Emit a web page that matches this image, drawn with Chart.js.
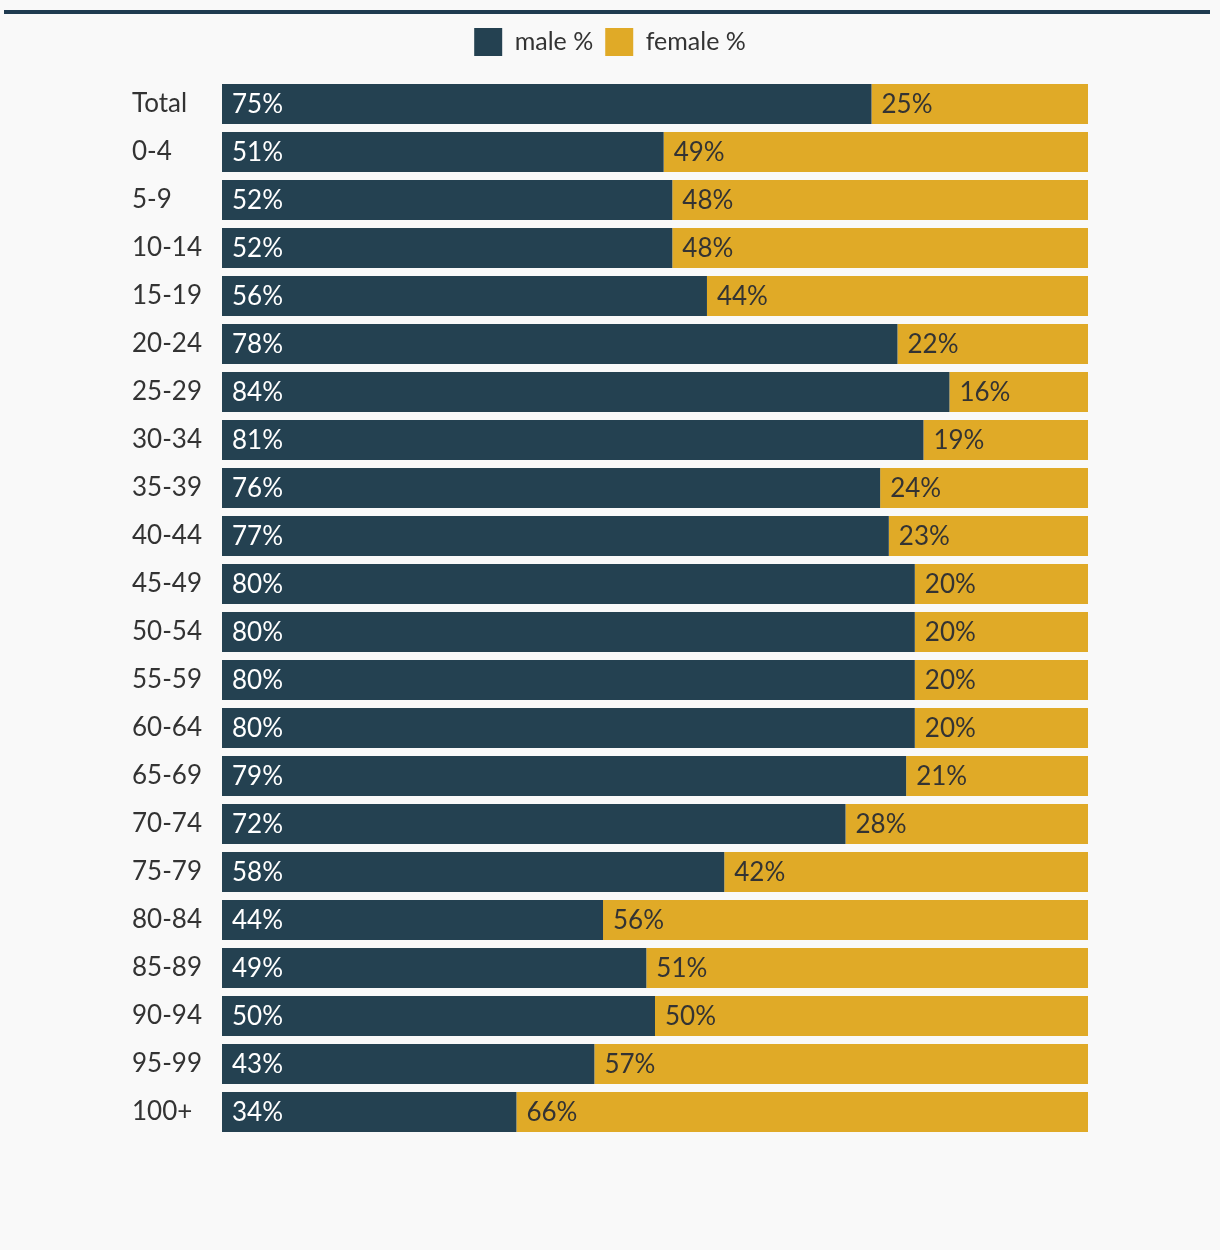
<!DOCTYPE html>
<html>
<head>
<meta charset="utf-8">
<script src="https://cdn.jsdelivr.net/npm/chart.js@4/dist/chart.umd.min.js"></script>
<style>
  html, body { margin: 0; padding: 0; background: #f9f9f9; }
  #wrap { position: relative; width: 1220px; height: 1250px; }
  #topline { position: absolute; left: 4px; top: 10px; width: 1206px; height: 4px; background: #1f3b50; }
  canvas { display: block; }
</style>
</head>
<body>
<div id="wrap">
  <div id="topline"></div>
  <canvas id="c" width="1220" height="1250"></canvas>
</div>
<script>
const categories = ["Total","0-4","5-9","10-14","15-19","20-24","25-29","30-34","35-39","40-44","45-49","50-54","55-59","60-64","65-69","70-74","75-79","80-84","85-89","90-94","95-99","100+"];
const maleValues = [75,51,52,52,56,78,84,81,76,77,80,80,80,80,79,72,58,44,49,50,43,34];
const femaleValues = [25,49,48,48,44,22,16,19,24,23,20,20,20,20,21,28,42,56,51,50,57,66];
const seriesNames = ["male %","female %"];

const FONT = "Lato, 'Open Sans', sans-serif";
const NAVY = "#244151";
const GOLD = "#e0aa27";

const legendMargin = {
  id: 'legendMargin',
  beforeInit(chart) {
    const origFit = chart.legend.fit;
    chart.legend.fit = function () {
      origFit.bind(chart.legend)();
      this.height += 14;
    };
  }
};

const barLabels = {
  id: 'barLabels',
  afterDatasetsDraw(chart) {
    const ctx = chart.ctx;
    ctx.save();
    ctx.font = "26px " + FONT;
    ctx.textAlign = 'left';
    ctx.textBaseline = 'middle';
    chart.data.datasets.forEach((ds, di) => {
      const meta = chart.getDatasetMeta(di);
      meta.data.forEach((bar, i) => {
        const p = bar.getProps(['x','y','base'], true);
        ctx.fillStyle = di === 0 ? '#ffffff' : '#333333';
        ctx.fillText(ds.data[i] + '%', Math.min(p.base, p.x) + 10, p.y + 1);
      });
    });
    ctx.restore();
  }
};

new Chart(document.getElementById('c'), {
  type: 'bar',
  data: {
    labels: categories,
    datasets: [
      { label: seriesNames[0], data: maleValues, backgroundColor: NAVY, borderWidth: 0 },
      { label: seriesNames[1], data: femaleValues, backgroundColor: GOLD, borderWidth: 0 }
    ]
  },
  options: {
    indexAxis: 'y',
    responsive: false,
    animation: false,
    maintainAspectRatio: false,
    barPercentage: 40/48,
    categoryPercentage: 1,
    layout: { padding: { left: 132, right: 132, top: 16, bottom: 114 } },
    plugins: {
      legend: {
        position: 'top',
        labels: {
          boxWidth: 28, boxHeight: 28, padding: 12,
          color: '#333333',
          font: { family: FONT, size: 25 }
        }
      },
      tooltip: { enabled: false }
    },
    scales: {
      x: { stacked: true, min: 0, max: 100, display: false },
      y: {
        stacked: true,
        grid: { display: false },
        border: { display: false },
        ticks: { color: '#333333', font: { family: FONT, size: 26 }, crossAlign: 'far', padding: 0 },
        afterFit(scale) { scale.width = 90; }
      }
    }
  },
  plugins: [legendMargin, barLabels]
});
</script>
</body>
</html>
